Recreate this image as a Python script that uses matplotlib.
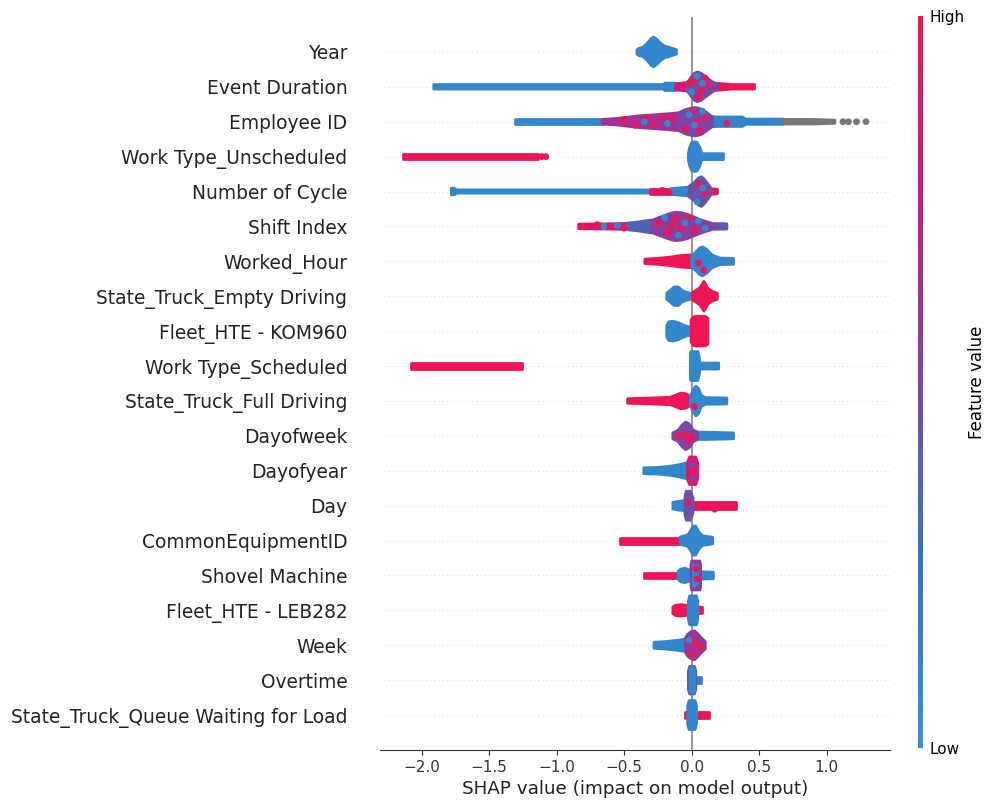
import numpy as np
import matplotlib
matplotlib.use("Agg")
import matplotlib.pyplot as plt
from matplotlib.colors import LinearSegmentedColormap
from matplotlib.cm import ScalarMappable

# Feature names, most important first
features = [
    "Year", "Event Duration", "Employee ID", "Work Type_Unscheduled",
    "Number of Cycle", "Shift Index", "Worked_Hour", "State_Truck_Empty Driving",
    "Fleet_HTE - KOM960", "Work Type_Scheduled", "State_Truck_Full Driving",
    "Dayofweek", "Dayofyear", "Day", "CommonEquipmentID", "Shovel Machine",
    "Fleet_HTE - LEB282", "Week", "Overtime", "State_Truck_Queue Waiting for Load",
]

x_ticks = [-2.0, -1.5, -1.0, -0.5, 0.0, 0.5, 1.0]

# Swarm outlines per feature: (feature value 0..1 or None for missing,
#                              SHAP knots, half-thickness in row units)
year = [
    (0.12, [-0.405, -0.39, -0.36, -0.33, -0.30, -0.283, -0.26, -0.23, -0.20, -0.17, -0.14, -0.113],
           [0.10, 0.14, 0.17, 0.28, 0.42, 0.46, 0.40, 0.28, 0.20, 0.17, 0.13, 0.10]),
]
event_duration = [
    (0.12, [-1.91, -0.205, -0.20, -0.12], [0.10, 0.10, 0.14, 0.14]),
    (0.78, [-0.12, -0.03], [0.12, 0.16]),
    (0.97, [0.14, 0.20, 0.30, 0.465], [0.15, 0.13, 0.10, 0.10]),
    (0.50, [-0.04, -0.02, 0.0, 0.02, 0.042, 0.07, 0.10, 0.13, 0.16, 0.19],
           [0.12, 0.22, 0.33, 0.42, 0.46, 0.42, 0.33, 0.24, 0.16, 0.12]),
]
employee_id = [
    (0.12, [-1.31, -0.65], [0.10, 0.10]),
    (0.62, [-0.66, -0.55, -0.40, -0.25, -0.15, -0.08], [0.10, 0.13, 0.20, 0.24, 0.27, 0.30]),
    (0.15, [0.14, 0.20, 0.375, 0.40, 0.68], [0.18, 0.17, 0.17, 0.11, 0.11]),
    (None, [0.68, 0.90, 1.06], [0.10, 0.10, 0.08]),
    (0.50, [-0.09, -0.05, 0.0, 0.03, 0.07, 0.11, 0.15], [0.30, 0.38, 0.43, 0.44, 0.40, 0.30, 0.18]),
]
work_unscheduled = [
    (0.97, [-2.137, -1.14], [0.11, 0.11]),
    (0.12, [-0.025, -0.015, 0.0, 0.02, 0.04, 0.06, 0.075, 0.235],
           [0.13, 0.30, 0.44, 0.46, 0.44, 0.30, 0.12, 0.12]),
]
number_of_cycle = [
    (0.12, [-1.78, -1.76, -1.74, -0.30], [0.13, 0.13, 0.08, 0.08]),
    (0.80, [-0.31, -0.15], [0.12, 0.12]),
    (0.15, [-0.155, -0.02], [0.12, 0.16]),
    (0.93, [0.12, 0.19], [0.12, 0.10]),
    (0.45, [-0.02, 0.02, 0.05, 0.07, 0.09, 0.12, 0.14], [0.18, 0.30, 0.42, 0.46, 0.40, 0.25, 0.14]),
]
shift_index = [
    (0.80, [-0.837, -0.60, -0.475], [0.10, 0.11, 0.12]),
    (0.35, [-0.48, -0.40, -0.30], [0.13, 0.16, 0.22]),
    (0.45, [0.12, 0.26], [0.12, 0.11]),
    (0.55, [-0.30, -0.25, -0.20, -0.15, -0.12, -0.08, -0.03, 0.02, 0.07, 0.12, 0.14],
           [0.20, 0.28, 0.35, 0.42, 0.44, 0.43, 0.38, 0.30, 0.22, 0.16, 0.14]),
]
worked_hour = [
    (0.97, [-0.347, -0.25, -0.15, -0.08, 0.0, 0.02], [0.10, 0.12, 0.16, 0.20, 0.22, 0.20]),
    (0.12, [0.18, 0.31], [0.13, 0.12]),
    (0.12, [0.0, 0.03, 0.06, 0.08, 0.11, 0.15, 0.20], [0.20, 0.30, 0.42, 0.45, 0.38, 0.22, 0.14]),
]
empty_driving = [
    (0.12, [-0.185, -0.16, -0.13, -0.10, -0.07, -0.04, -0.01], [0.12, 0.20, 0.30, 0.30, 0.20, 0.15, 0.12]),
    (0.97, [0.005, 0.03, 0.06, 0.08, 0.09, 0.10, 0.12, 0.15, 0.19],
           [0.14, 0.20, 0.28, 0.40, 0.46, 0.40, 0.26, 0.18, 0.12]),
]
kom960 = [
    (0.12, [-0.185, -0.17, -0.14, -0.10, -0.07, -0.04, -0.01], [0.20, 0.30, 0.32, 0.28, 0.22, 0.18, 0.14]),
    (0.97, [-0.005, 0.01, 0.03, 0.10, 0.12], [0.35, 0.44, 0.46, 0.46, 0.40]),
]
work_scheduled = [
    (0.97, [-2.08, -1.26], [0.11, 0.11]),
    (0.12, [-0.01, -0.005, 0.045, 0.055, 0.06, 0.20], [0.40, 0.45, 0.45, 0.30, 0.12, 0.12]),
]
full_driving = [
    (0.97, [-0.475, -0.30, -0.16, -0.12, -0.08, -0.04, -0.01], [0.10, 0.12, 0.14, 0.20, 0.26, 0.24, 0.16]),
    (0.12, [-0.01, 0.01, 0.03, 0.05, 0.07, 0.10, 0.26], [0.16, 0.35, 0.46, 0.40, 0.20, 0.13, 0.12]),
]
dayofweek = [
    (0.12, [0.04, 0.10, 0.20, 0.31], [0.14, 0.14, 0.13, 0.12]),
    (0.50, [-0.14, -0.10, -0.07, -0.045, -0.02, 0.01, 0.045], [0.12, 0.20, 0.35, 0.43, 0.38, 0.20, 0.14]),
]
dayofyear = [
    (0.12, [-0.355, -0.25, -0.15, -0.08, -0.03], [0.12, 0.13, 0.17, 0.22, 0.27]),
    (0.85, [-0.03, -0.015, 0.03, 0.045], [0.30, 0.43, 0.43, 0.25]),
]
day = [
    (0.12, [-0.14, -0.10, -0.05], [0.13, 0.16, 0.18]),
    (0.97, [0.005, 0.325], [0.14, 0.14]),
    (0.45, [-0.05, -0.04, -0.01, 0.01], [0.30, 0.45, 0.45, 0.25]),
]
common_equipment = [
    (0.97, [-0.53, -0.08], [0.12, 0.12]),
    (0.12, [-0.085, -0.03, -0.01, 0.01, 0.03, 0.05, 0.08, 0.155], [0.14, 0.20, 0.30, 0.45, 0.45, 0.30, 0.17, 0.13]),
]
shovel_machine = [
    (0.97, [-0.355, -0.10], [0.12, 0.12]),
    (0.12, [-0.10, -0.08, -0.05, -0.02, 0.0], [0.15, 0.22, 0.24, 0.20, 0.15]),
    (0.12, [0.06, 0.16], [0.14, 0.13]),
    (0.55, [-0.005, 0.0, 0.06, 0.066], [0.35, 0.45, 0.45, 0.35]),
    (0.12, [0.012, 0.045], [0.34, 0.30]),
]
leb282 = [
    (0.97, [-0.14, -0.12, -0.08, -0.04, -0.02], [0.13, 0.18, 0.20, 0.18, 0.14]),
    (0.97, [0.045, 0.08], [0.13, 0.12]),
    (0.12, [-0.025, -0.015, 0.035, 0.045], [0.30, 0.45, 0.45, 0.30]),
]
week = [
    (0.12, [-0.28, -0.20, -0.10, -0.04], [0.12, 0.14, 0.18, 0.22]),
    (0.60, [-0.045, -0.03, 0.0, 0.02, 0.04, 0.07, 0.10], [0.25, 0.35, 0.43, 0.45, 0.38, 0.25, 0.14]),
]
overtime = [
    (0.12, [0.025, 0.065], [0.12, 0.12]),
    (0.40, [-0.025, -0.015, 0.02, 0.03], [0.30, 0.43, 0.43, 0.30]),
    (0.12, [-0.012, 0.018], [0.38, 0.38]),
]
queue_waiting = [
    (0.97, [-0.052, 0.125], [0.13, 0.13]),
    (0.12, [-0.03, -0.02, 0.025, 0.035], [0.30, 0.45, 0.45, 0.30]),
]

# Individual dots standing out of the swarms: (SHAP value, row offset, feature value)
event_duration_dots = [(0.02, 0.20, 0.97), (0.07, -0.10, 0.97), (0.10, 0.25, 0.97), (0.05, -0.30, 0.97),
                       (0.12, 0.05, 0.97), (-0.02, 0.10, 0.97), (0.0, -0.15, 0.1), (0.08, 0.10, 0.1),
                       (0.04, 0.30, 0.1), (-0.07, 0.0, 0.85)]
employee_id_dots = [(-0.50, 0.05, 0.95), (-0.42, -0.10, 0.95), (-0.33, 0.12, 0.95), (-0.28, -0.08, 0.95),
                    (-0.22, 0.15, 0.95), (-0.15, 0.10, 0.95), (-0.05, -0.20, 0.95), (0.0, 0.30, 0.95),
                    (0.06, -0.25, 0.95), (0.10, 0.10, 0.95), (0.04, 0.0, 0.95), (0.26, -0.05, 0.95),
                    (-0.35, 0.0, 0.1), (-0.18, -0.05, 0.1), (0.02, -0.10, 0.1), (0.08, 0.30, 0.1),
                    (-0.02, 0.20, 0.1), (1.12, 0.0, None), (1.16, 0.0, None), (1.22, 0.0, None),
                    (1.29, 0.0, None)]
work_unscheduled_dots = [(-1.11, 0.0, 0.97), (-1.08, 0.0, 0.97)]
number_of_cycle_dots = [(-0.28, 0.0, 0.97), (-0.22, 0.03, 0.97), (-0.17, -0.02, 0.97), (0.05, 0.20, 0.97),
                        (0.10, -0.05, 0.97), (0.17, 0.0, 0.97), (0.04, -0.30, 0.1), (0.08, 0.10, 0.1),
                        (-0.05, 0.05, 0.1)]
shift_index_dots = [(-0.80, 0.0, 0.97), (-0.70, 0.05, 0.97), (-0.60, 0.0, 0.97), (-0.50, -0.05, 0.97),
                    (-0.25, 0.10, 0.97), (-0.18, -0.20, 0.97), (-0.12, 0.20, 0.97), (-0.08, -0.05, 0.97),
                    (-0.03, 0.25, 0.97), (0.02, -0.10, 0.97), (-0.15, 0.0, 0.97), (-0.65, 0.0, 0.1),
                    (-0.55, 0.03, 0.1), (-0.20, 0.25, 0.1), (-0.10, -0.25, 0.1), (-0.05, 0.10, 0.1),
                    (0.05, 0.15, 0.1), (0.10, -0.05, 0.1)]
worked_hour_dots = [(0.09, -0.25, 0.97), (0.05, -0.05, 0.97)]
full_driving_dots = [(0.015, -0.15, 0.97)]
dayofweek_dots = [(-0.10, 0.0, 0.97), (-0.05, 0.05, 0.97), (0.0, -0.03, 0.97), (-0.03, -0.15, 0.97)]
dayofyear_dots = [(0.0, 0.15, 0.5), (0.01, -0.2, 0.5), (-0.01, -0.05, 0.97)]
day_dots = [(0.17, -0.10, 0.97), (-0.03, 0.1, 0.97)]
shovel_machine_dots = [(0.03, 0.20, 0.97), (0.04, -0.10, 0.97)]
week_dots = [(0.02, 0.10, 0.97), (0.06, -0.05, 0.97), (0.0, -0.25, 0.97), (-0.02, 0.15, 0.1)]

strokes = [year, event_duration, employee_id, work_unscheduled, number_of_cycle, shift_index,
           worked_hour, empty_driving, kom960, work_scheduled, full_driving, dayofweek, dayofyear,
           day, common_equipment, shovel_machine, leb282, week, overtime, queue_waiting]
dots = [[], event_duration_dots, employee_id_dots, work_unscheduled_dots, number_of_cycle_dots,
        shift_index_dots, worked_hour_dots, [], [], [], full_driving_dots, dayofweek_dots,
        dayofyear_dots, day_dots, [], shovel_machine_dots, [], week_dots, [], []]

cmap = LinearSegmentedColormap.from_list(
    "shap_like", ["#3892d6", "#2e78c0", "#7b47a4", "#cc1886", "#f2154f"])
NAN_GREY = "#777777"


def colour(v):
    return NAN_GREY if v is None else cmap(v)


fig = plt.figure(figsize=(9.87, 8.02), dpi=100)
ax = fig.add_axes([380 / 987, 1 - 750 / 802, 510 / 987, 733 / 802])

n = len(features)
edge_lw = 2.0
pad = 0.035
for i, (feat_strokes, feat_dots) in enumerate(zip(strokes, dots)):
    y = n - 1 - i
    ax.axhline(y, color="#cccccc", lw=0.6, dashes=(1, 4), zorder=-1)
    for value, xs, ws in feat_strokes:
        xs = np.asarray(xs, dtype=float)
        ws = np.maximum(np.asarray(ws, dtype=float) - pad, 0.03)
        c = colour(value)
        ax.fill(np.concatenate([xs, xs[::-1]]),
                np.concatenate([y + ws, (y - ws)[::-1]]),
                facecolor=c, edgecolor=c, linewidth=edge_lw, joinstyle="round", zorder=3)
    if feat_dots:
        dx = [d[0] for d in feat_dots]
        dy = [y + d[1] for d in feat_dots]
        dc = [colour(d[2]) for d in feat_dots]
        ax.scatter(dx, dy, s=24, c=dc, linewidths=0, zorder=4)

ax.axvline(0, color="#999999", lw=1.5, zorder=-1)

ax.set_xlim(-2.308, 1.468)
ax.set_ylim(-1, n)
ax.set_yticks(range(n))
ax.set_yticklabels(features[::-1], fontsize=13.4, color="#222222")
ax.tick_params(axis="y", length=0, pad=23.5)
ax.set_xticks(x_ticks)
ax.set_xticklabels([f"{t:.1f}".replace("-", "\u2212") for t in x_ticks])
ax.tick_params(axis="x", labelsize=11, colors="#333333")
ax.set_xlabel("SHAP value (impact on model output)", fontsize=13.2, color="#222222", labelpad=4)
for side in ("top", "right", "left"):
    ax.spines[side].set_visible(False)
ax.spines["bottom"].set_color("#333333")

cax = fig.add_axes([918 / 987, 1 - 748 / 802, 5 / 987, 732 / 802])
sm = ScalarMappable(cmap=cmap)
sm.set_array([0, 1])
cb = fig.colorbar(sm, cax=cax, ticks=[0, 1])
cb.set_ticklabels(["Low", "High"])
cb.ax.tick_params(labelsize=11, length=0, pad=5)
cb.set_label("Feature value", size=12, labelpad=2)
cb.outline.set_visible(False)

fig.savefig("out.png", dpi=100)
